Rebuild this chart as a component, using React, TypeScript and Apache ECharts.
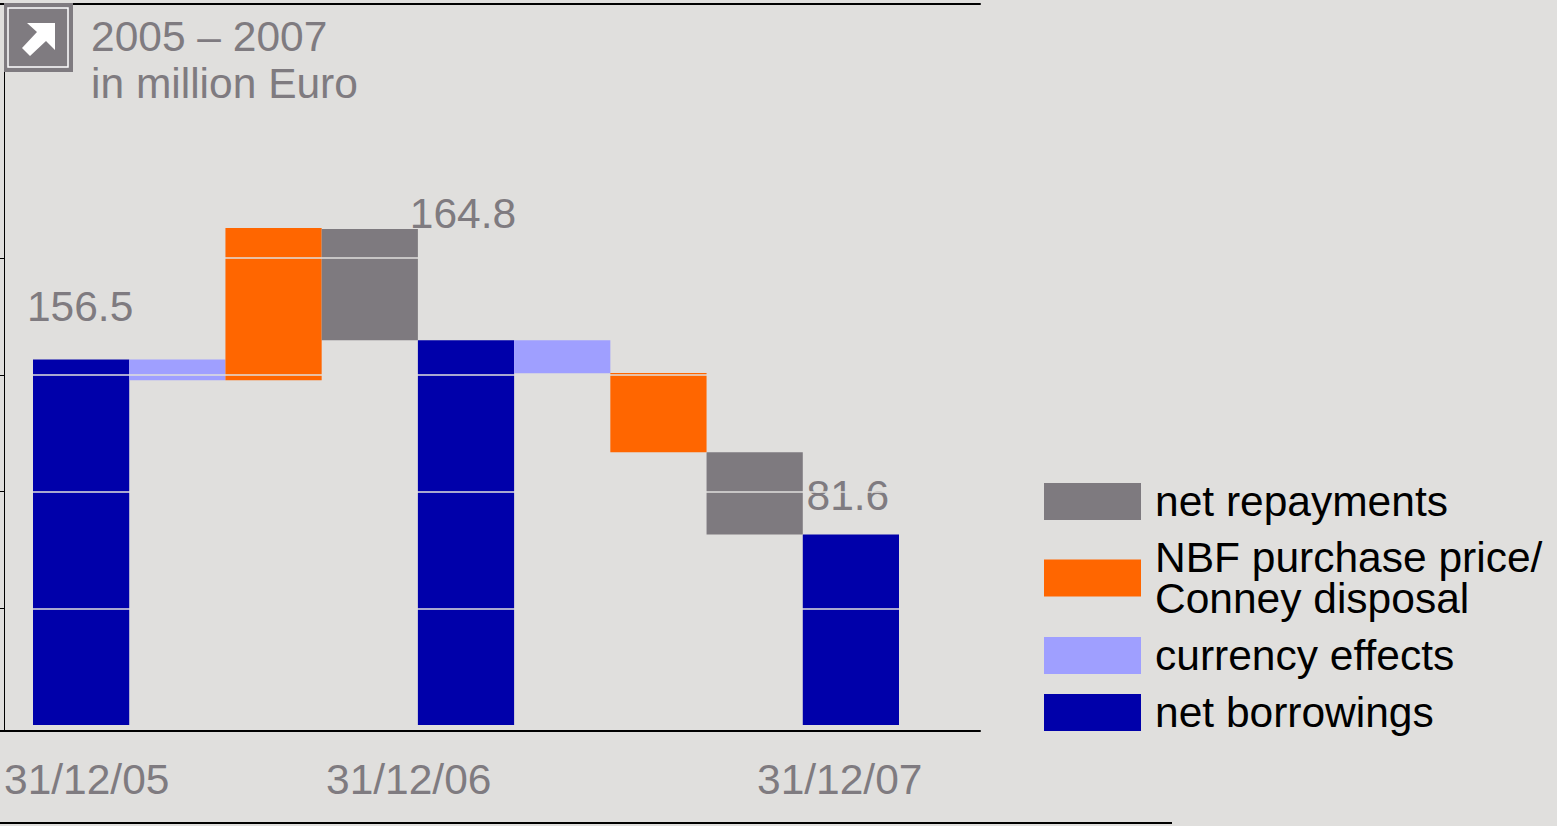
import React, { useEffect, useRef } from "react";
import * as echarts from "echarts";

const categories = ["a", "b", "c", "d", "e", "f", "g", "h", "i"];
const base = [null, 147.6, 147.6, 164.8, null, 150.6, 116.8, 81.6, null];
const netBorrowings = [156.5, null, null, null, 164.8, null, null, null, 81.6];
const currencyEffects = [null, 8.9, null, null, null, 14.2, null, null, null];
const purchasePrice = [null, null, 65.2, null, null, null, 34, null, null];
const netRepayments = [null, null, null, 47.6, null, null, null, 35.2, null];
const dateLabels = ["31/12/05", "31/12/06", "31/12/07"];
const yTicks = [50, 100, 150, 200];

const FONT = "Liberation Sans, Arial, sans-serif";
const GREY = "#7f7b80";
const BG = "#e0dfdd";
const FS = 42.5;

export default function App() {
  const ref = useRef<HTMLDivElement>(null);
  useEffect(() => {
    document.body.style.margin = "0";
    document.body.style.overflow = "hidden";
    const chart = echarts.init(ref.current!, null, { renderer: "svg" });
    const labelSpec: Record<number, [number, number]> = { 0: [32, -1], 4: [105, -3], 8: [17, -3] };
    const labelled = netBorrowings.map((v, i) =>
      v == null
        ? null
        : {
            value: v,
            label: {
              show: true, position: "top", distance: labelSpec[i][0], offset: [labelSpec[i][1], 0],
              formatter: v.toFixed(1), color: GREY, fontSize: FS, fontFamily: FONT,
            },
          }
    );
    const legendAt = (name: string, top: number) => ({
      show: true,
      data: [name],
      left: 1044,
      top,
      orient: "vertical",
      padding: 0,
      itemWidth: 97,
      itemHeight: 37,
      icon: "rect",
      selectedMode: false,
      textStyle: { color: "#000", fontSize: FS, fontFamily: FONT, lineHeight: 41, padding: [0, 0, 0, 9] },
    });
    const bar = (name: string, data: any[], color: string) => ({
      name, type: "bar", stack: "w", data, barWidth: "100%", xAxisIndex: 0, yAxisIndex: 0,
      itemStyle: { color }, z: 2,
    });
    const text = (t: string, x: number, y: number, z = 1) => ({
      type: "text", x, y, z, style: { text: t, fill: GREY, fontSize: FS, fontFamily: FONT },
    });
    chart.setOption({
      animation: false,
      backgroundColor: BG,
      grid: [
        { left: 33, top: 24.5, width: 866, height: 700.5 },
        { left: 0, top: 4, width: 980, height: 727 },
      ],
      xAxis: [
        { type: "category", data: categories, gridIndex: 0, axisLine: { show: false }, axisTick: { show: false }, axisLabel: { show: false } },
        { type: "value", min: 0, max: 1, gridIndex: 1, position: "bottom", axisLine: { show: true, lineStyle: { color: "#000", width: 2 } }, axisTick: { show: false }, axisLabel: { show: false }, splitLine: { show: false } },
        { type: "value", min: 0, max: 1, gridIndex: 1, position: "top", axisLine: { show: true, lineStyle: { color: "#000", width: 2 } }, axisTick: { show: false }, axisLabel: { show: false }, splitLine: { show: false } },
      ],
      yAxis: [
        {
          type: "value", min: 0, max: 300, interval: 50, gridIndex: 0, offset: 29, z: 5,
          axisLine: { show: false },
          axisTick: { show: true, length: 4, customValues: yTicks, lineStyle: { color: "#000", width: 1 } },
          axisLabel: { show: false },
          splitLine: { show: true, lineStyle: { color: BG, width: 1.5 } },
        },
        {
          type: "value", min: 0, max: 1, gridIndex: 1, offset: -4,
          axisLine: { show: true, lineStyle: { color: "#000", width: 1 } },
          axisTick: { show: false }, axisLabel: { show: false }, splitLine: { show: false },
        },
      ],
      legend: [
        legendAt("net repayments", 480),
        legendAt("NBF purchase price/\nConney disposal", 536),
        legendAt("currency effects", 634),
        legendAt("net borrowings", 691),
      ],
      series: [
        { name: "base", type: "bar", stack: "w", data: base, barWidth: "100%", itemStyle: { color: "transparent" }, silent: true },
        bar("net borrowings", labelled, "#0000aa"),
        bar("currency effects", currencyEffects, "#9f9fff"),
        bar("NBF purchase price/\nConney disposal", purchasePrice, "#ff6600"),
        bar("net repayments", netRepayments, "#7e7a7f"),
      ],
      graphic: [
        { type: "rect", shape: { x: 4, y: 3, width: 69, height: 69 }, style: { fill: GREY }, z: 10 },
        { type: "rect", shape: { x: 8, y: 8, width: 60, height: 59 }, style: { fill: GREY, stroke: "#fff", lineWidth: 1.5 }, z: 11 },
        { type: "polygon", shape: { points: [[27, 23], [55, 23], [55, 50], [46, 41], [30, 56], [22, 48], [37, 32]] }, style: { fill: "#fff" }, z: 12 },
        text("2005 – 2007", 91, 15, 12),
        text("in million Euro", 91, 62, 12),
        text(dateLabels[0], 4, 758),
        text(dateLabels[1], 326, 758),
        text(dateLabels[2], 757, 758),
        { type: "line", shape: { x1: 0, y1: 823, x2: 1172, y2: 823 }, style: { stroke: "#000", lineWidth: 2 } },
      ],
    });
    return () => chart.dispose();
  }, []);
  return <div ref={ref} style={{ width: 1557, height: 826 }} />;
}
